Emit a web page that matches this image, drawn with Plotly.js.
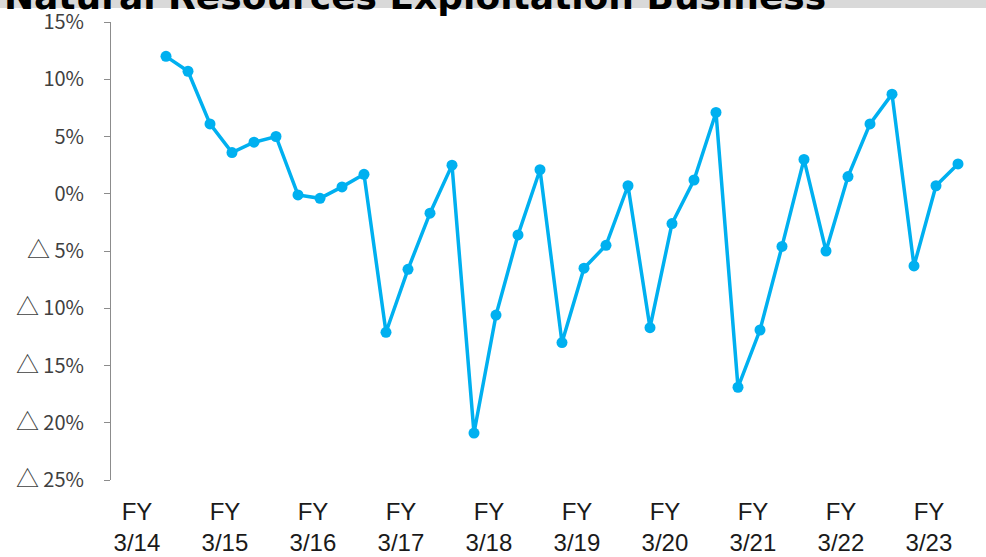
<!DOCTYPE html>
<html>
<head>
<meta charset="utf-8">
<script src="https://cdn.plot.ly/plotly-3.0.1.min.js"></script>
<style>html,body{margin:0;padding:0;background:#fff;}#chart{width:986px;height:557px;}</style>
</head>
<body>
<div id="chart"></div>
<script>
// Fiscal years (categories), each split into 4 quarters
const fiscalYears = ['3/14','3/15','3/16','3/17','3/18','3/19','3/20','3/21','3/22','3/23'];
const xTickText = ['FY<br>3/14','FY<br>3/15','FY<br>3/16','FY<br>3/17','FY<br>3/18','FY<br>3/19','FY<br>3/20','FY<br>3/21','FY<br>3/22','FY<br>3/23'];
// Quarterly year-on-year change (%), starting at Q3 of FY3/14
const firstQuarterIndex = 2;
const growth = [12.0, 10.7, 6.1, 3.6, 4.5, 5.0, -0.1, -0.4, 0.6, 1.7,
  -12.1, -6.6, -1.7, 2.5, -20.9, -10.6, -3.6, 2.1, -13.0, -6.5,
  -4.5, 0.7, -11.7, -2.6, 1.2, 7.1, -16.9, -11.9, -4.6, 3.0,
  -5.0, 1.5, 6.1, 8.7, -6.3, 0.7, 2.6];
const yTickVals = [-25, -20, -15, -10, -5, 0, 5, 10, 15];
const yTickText = ['△ 25%','△ 20%','△ 15%','△ 10%','△ 5%','0%','5%','10%','15%'];
const titleText = 'Natural Resources Exploitation Business';

const QPY = 4;
const xs = growth.map((v, i) => firstQuarterIndex + i + 0.5);
const labelPos = fiscalYears.map((f, k) => k * QPY + 1.18);
const boundaryTicks = fiscalYears.slice(1).map((f, k) => (k + 1) * QPY);
// enlarge the triangle glyph used for negative values
const yTickHtml = yTickText.map(t => t.replace('△ ', '<span style="font-size:23px">△</span>\u00a0'));

const W = 986, H = 557;
const mT = 22, mB = 77, mL = 111, mR = 0;
const plotH = H - mT - mB;
const xRange = [0, (W - mL - mR) / 22];
const yRange = [-25, 15];
const zeroPos = (0 - yRange[0]) / (yRange[1] - yRange[0]);

const data = [{
  type: 'scatter', mode: 'lines+markers',
  x: xs, y: growth,
  line: {color: '#00B0F0', width: 3.5},
  marker: {color: '#00B0F0', size: 11},
  hoverinfo: 'x+y', showlegend: false
}];

const layout = {
  width: W, height: H,
  margin: {l: mL, r: mR, t: mT, b: mB, pad: 0},
  paper_bgcolor: '#ffffff', plot_bgcolor: '#ffffff',
  showlegend: false,
  title: {
    text: '<b>' + titleText + '</b>',
    font: {family: 'DejaVu Sans, Arial, sans-serif', size: 36, color: '#000000'},
    x: 0.004, xanchor: 'left', xref: 'container',
    y: 1, yanchor: 'bottom', yref: 'paper', pad: {b: 13}, automargin: false
  },
  xaxis: {
    range: xRange, showgrid: false, zeroline: false, showline: false,
    tickmode: 'array', tickvals: labelPos, ticktext: xTickText, ticks: '',
    tickfont: {family: 'Liberation Sans, Arial, sans-serif', size: 24, color: '#1a1a1a'},
    ticklabelstandoff: 15, fixedrange: true
  },
  xaxis2: {
    overlaying: 'x', matches: 'x', anchor: 'free', position: zeroPos,
    range: xRange, showgrid: false, zeroline: false,
    showline: true, linecolor: '#8c8c8c', linewidth: 2,
    ticks: 'outside', tickmode: 'array', tickvals: boundaryTicks, ticklen: 6, tickwidth: 1, tickcolor: '#8c8c8c',
    showticklabels: false, fixedrange: true
  },
  yaxis: {
    range: yRange, showgrid: false, zeroline: false,
    showline: true, linecolor: '#8c8c8c', linewidth: 1,
    ticks: 'outside', ticklen: 6, tickwidth: 1, tickcolor: '#8c8c8c',
    tickmode: 'array', tickvals: yTickVals, ticktext: yTickHtml,
    tickfont: {family: 'Noto Sans CJK JP, sans-serif', size: 20, color: '#404040'},
    ticklabelstandoff: 16, fixedrange: true
  },
  shapes: [{
    type: 'rect', xref: 'paper', yref: 'paper', layer: 'above',
    x0: -mL / (W - mL), x1: 1,
    y0: 1 + (mT - 8) / plotH, y1: 1 + mT / plotH,
    fillcolor: '#d9d9d9', line: {width: 0}
  }]
};

Plotly.newPlot('chart', data, layout, {displayModeBar: false, staticPlot: true});
</script>
</body>
</html>
